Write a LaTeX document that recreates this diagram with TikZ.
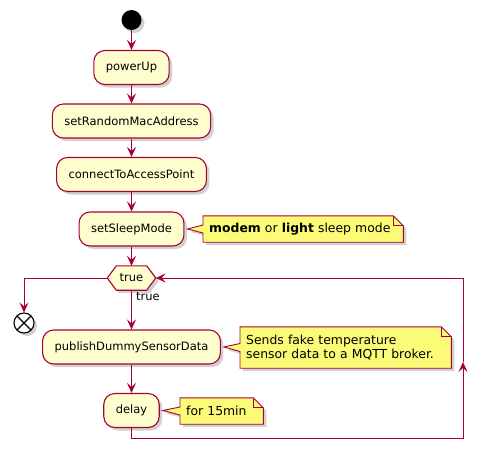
\documentclass[tikz,border=0pt]{standalone}
\usepackage{fontspec}
\setmainfont{DejaVu Sans}
\usetikzlibrary{arrows.meta,shadows,calc,backgrounds}
\definecolor{boxfill}{HTML}{FEFECE}
\definecolor{boxline}{HTML}{A80036}
\definecolor{notefill}{HTML}{FBFB77}
\begin{document}
\begin{tikzpicture}[x=1pt,y=-1pt,
  font=\fontsize{11.5}{14}\selectfont,
  shad/.style={drop shadow={shadow xshift=3pt,shadow yshift=-3pt,opacity=0.3,fill=black!60}},
  act/.style={draw=boxline, fill=boxfill, rounded corners=11pt, minimum height=34pt,
    inner xsep=12pt, line width=1.1pt, shad},
  conn/.style={draw=boxline, line width=1pt, -{Stealth[length=10pt,width=9pt,inset=4pt]}},
  line/.style={draw=boxline, line width=1pt},
  notetext/.style={anchor=west, align=left, inner xsep=6pt, inner ysep=0pt,
    font=\fontsize{12.4}{14}\selectfont},
  noteshape/.style={draw=boxline, fill=notefill, line width=0.9pt, shad},
  foldline/.style={draw=boxline, line width=0.9pt},
]
\useasboundingbox (0,0) rectangle (488,461);

% start
\node[circle, fill=black, minimum size=20pt, inner sep=0pt, shad] (start) at (131.5,20) {};

% activities
\node[act] (pu)  at (131.5,67.5) {powerUp};
\node[act] (srm) at (131.5,121)  {setRandomMacAddress};
\node[act] (cap) at (131.5,174.5) {connectToAccessPoint};
\node[act] (ssm) at (131.5,229)  {setSleepMode};
\node[minimum width=48pt, minimum height=24pt, inner sep=0pt] (d) at (131.5,278) {true};
\node[act] (pub) at (131.5,347)  {publishDummySensorData};
\node[act] (dl)  at (131.5,410.5) {delay};

% end
\node[circle, draw=black, fill=white, line width=1.1pt, minimum size=20pt, inner sep=0pt, shad] (end) at (24,323) {};
\draw[line width=1.1pt] ($(end.center)+(-7,-7)$) -- ($(end.center)+(7,7)$)
      ($(end.center)+(-7,7)$) -- ($(end.center)+(7,-7)$);

% hexagon
\begin{scope}[on background layer]
\draw[line, fill=boxfill, line width=1.1pt, shad] (d.west) -- ($(d.north west)+(9,0)$) -- ($(d.north east)+(-9,0)$)
  -- (d.east) -- ($(d.south east)+(-9,0)$) -- ($(d.south west)+(9,0)$) -- cycle;
\end{scope}
\node[anchor=west, inner sep=2pt] (tl) at (134,297) {true};

% notes
\node[notetext, text width=188pt, minimum height=26pt] (n1) at (203,229)
  {\textbf{modem} or \textbf{light} sleep mode};
\node[notetext, text width=199pt, minimum height=41pt] (n2) at (240,347.5)
  {Sends fake temperature\\sensor data to a MQTT broker.};
\node[notetext, text width=71pt, minimum height=26pt] (n3) at (180,411)
  {for 15min};

\begin{scope}[on background layer]
\foreach \n/\b in {n1/ssm, n2/pub, n3/dl}{
  \draw[noteshape] (\n.north west) -- ($(\n.north east)+(-10,0)$) -- ($(\n.north east)+(0,10)$)
    -- (\n.south east) -- (\n.south west) -- ($(\n.west)+(0,4)$) -- ($(\b.east)+(3,0)$)
    -- ($(\n.west)+(0,-4)$) -- cycle;
  \draw[foldline] ($(\n.north east)+(-10,0)$) -- ($(\n.north east)+(-10,10)$) -- ($(\n.north east)+(0,10)$);
}
\end{scope}

% connectors
\draw[conn] (start) -- (pu);
\draw[conn] (pu) -- (srm);
\draw[conn] (srm) -- (cap);
\draw[conn] (cap) -- (ssm);
\draw[conn] (ssm) -- (d.north);
\draw[conn] (d.south) -- (pub);
\draw[conn] (pub) -- (dl);
\draw[conn] (d.west) -| (end.north);

\coordinate (lb) at (131.5,438);
\coordinate (rb) at (463,438);
\coordinate (rm) at (463,362);
\coordinate (rt) at (463,278);
\draw[conn] (dl.south) -- (lb) -- (rb) -- (rm);
\draw[conn] (rm) -- (rt) -- (d.east);
\end{tikzpicture}
\end{document}
